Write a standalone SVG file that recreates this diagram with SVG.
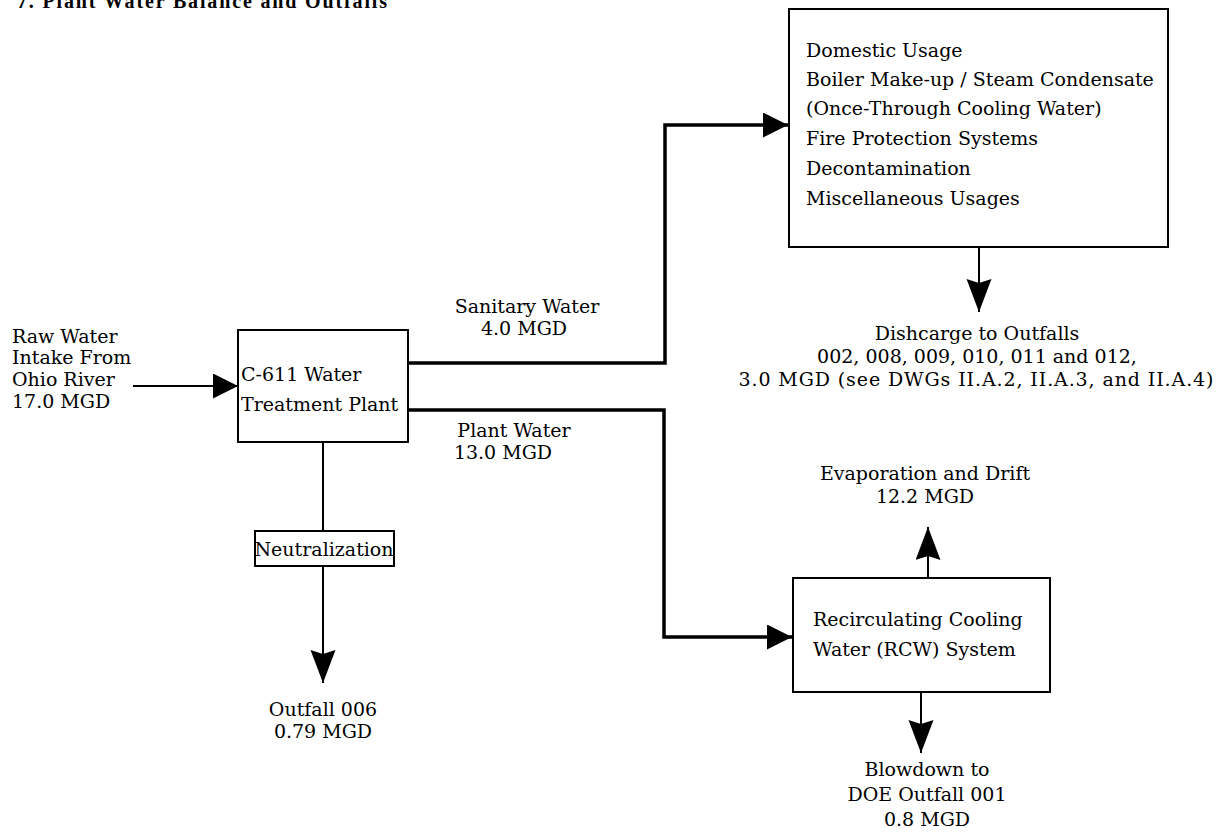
<svg xmlns="http://www.w3.org/2000/svg" width="1220" height="833" viewBox="0 0 1220 833">
<style>
text{font-family:"DejaVu Serif","Liberation Serif",serif;font-size:19px;fill:#000}
.c{text-anchor:middle}
.box{fill:#fff;stroke:#000;stroke-width:2}
.thin{fill:none;stroke:#000;stroke-width:2}
.thick{fill:none;stroke:#000;stroke-width:3.5}
.title{font-family:"Liberation Serif",serif;font-weight:bold;font-size:20px}
</style>
<defs>
<marker id="ah" markerUnits="userSpaceOnUse" markerWidth="26" markerHeight="26" refX="25" refY="12.5" orient="auto" viewBox="0 0 26 26">
<path d="M0,0 L25,12.5 L0,25 z" fill="#000"/>
</marker>
<marker id="av" markerUnits="userSpaceOnUse" markerWidth="34" markerHeight="26" refX="33" refY="12.5" orient="auto" viewBox="0 0 34 26">
<path d="M0,0 L33,12.5 L0,25 L4,12.5 z" fill="#000"/>
</marker>
</defs>
<rect width="1220" height="833" fill="#fff"/>
<text class="title" x="17" y="8" textLength="370" lengthAdjust="spacing">7. Plant Water Balance and Outfalls</text>

<g id="connectors">
<path class="thin" d="M133,386 L238,386" marker-end="url(#ah)"/>
<path class="thick" d="M408,363 L665,363 L665,125 L788,125" marker-end="url(#ah)"/>
<path class="thick" d="M408,410 L664,410 L664,637 L792,637" marker-end="url(#ah)"/>
<path class="thin" d="M979,247 L979,312" marker-end="url(#av)"/>
<path class="thin" d="M323,442 L323,531"/>
<path class="thin" d="M323,566 L323,683" marker-end="url(#av)"/>
<path class="thin" d="M928,578 L928,527" marker-end="url(#av)"/>
<path class="thin" d="M921,692 L921,753" marker-end="url(#av)"/>
</g>

<g id="raw-water">
<text x="12" y="343">Raw Water</text>
<text x="12" y="364">Intake From</text>
<text x="12" y="386">Ohio River</text>
<text x="12" y="408">17.0 MGD</text>
</g>

<g id="treatment-plant">
<rect class="box" x="238" y="330" width="170" height="112"/>
<text x="241" y="381">C-611 Water</text>
<text x="241" y="411">Treatment Plant</text>
</g>

<g id="domestic">
<rect class="box" x="789" y="9" width="379" height="238"/>
<text x="806" y="57">Domestic Usage</text>
<text x="806" y="86">Boiler Make-up / Steam Condensate</text>
<text x="806" y="115">(Once-Through Cooling Water)</text>
<text x="806" y="145">Fire Protection Systems</text>
<text x="806" y="175">Decontamination</text>
<text x="806" y="205">Miscellaneous Usages</text>
</g>

<g id="discharge">
<text class="c" x="977" y="340">Dishcarge to Outfalls</text>
<text class="c" x="977" y="363">002, 008, 009, 010, 011 and 012,</text>
<text class="c" x="976" y="386" textLength="475" lengthAdjust="spacing">3.0 MGD (see DWGs II.A.2, II.A.3, and II.A.4)</text>
</g>

<g id="sanitary-label">
<text class="c" x="527" y="313">Sanitary Water</text>
<text class="c" x="524" y="335">4.0 MGD</text>
</g>

<g id="plant-label">
<text class="c" x="514" y="437">Plant Water</text>
<text class="c" x="503" y="459">13.0 MGD</text>
</g>

<g id="neutralization">
<rect class="box" x="255" y="531" width="139" height="35"/>
<text class="c" x="324" y="556">Neutralization</text>
</g>

<g id="outfall-006">
<text class="c" x="323" y="716">Outfall 006</text>
<text class="c" x="323" y="738">0.79 MGD</text>
</g>

<g id="rcw">
<rect class="box" x="793" y="578" width="257" height="114"/>
<text x="813" y="626">Recirculating Cooling</text>
<text x="813" y="656">Water (RCW) System</text>
</g>

<g id="evaporation">
<text class="c" x="925" y="480">Evaporation and Drift</text>
<text class="c" x="925" y="503">12.2 MGD</text>
</g>

<g id="blowdown">
<text class="c" x="927" y="776">Blowdown to</text>
<text class="c" x="927" y="801">DOE Outfall 001</text>
<text class="c" x="927" y="826">0.8 MGD</text>
</g>
</svg>
